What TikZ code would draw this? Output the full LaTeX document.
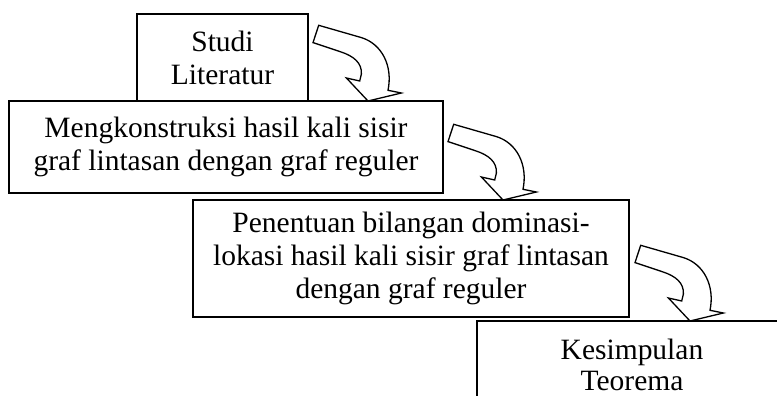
\documentclass[tikz,border=0pt]{standalone}
\usepackage{fontspec}
\setmainfont{Liberation Serif}
\begin{document}
\begin{tikzpicture}[x=1pt,y=-1pt,
  stepbox/.style={draw=black, line width=1.5pt, fill=white, inner sep=0pt, align=center,
    font=\fontsize{29.5}{33}\selectfont},
  curvedarrow/.pic={
    \draw[line width=1.3pt, fill=white, line join=miter]
      (-49.3,-75.7) -- (-6.6,-63.4)
      .. controls (14,-57) and (25,-35) .. (20,-10.7)
      -- (33.4,-8) -- (0,0) -- (-21.6,-23) -- (-8.3,-20) -- (-6.6,-27)
      .. controls (-6,-38) and (-14,-45) .. (-28.3,-49.5)
      -- (-55,-58.4) -- cycle;
  }]
\useasboundingbox (0,0) rectangle (777,396);
\clip (0,0) rectangle (777,396);
\node[stepbox, minimum width=171, minimum height=87] (b1) at (222.5,57.5) {Studi\\Literatur};
\node[stepbox, minimum width=434, minimum height=92] (b2) at (226,147) {Mengkonstruksi hasil kali sisir\\graf lintasan dengan graf reguler};
\node[stepbox, minimum width=436, minimum height=117] (b3) at (411,258.5) {Penentuan bilangan dominasi-\\lokasi hasil kali sisir graf lintasan\\dengan graf reguler};
\node[stepbox, minimum width=310, minimum height=88, font=\fontsize{29.5}{31}\selectfont] (b4) at (632,365) {Kesimpulan\\Teorema};
\coordinate (t1) at (368,101);
\coordinate (t2) at (503,200);
\coordinate (t3) at (690,321);
\pic at (t1) {curvedarrow};
\pic at (t2) {curvedarrow};
\pic at (t3) {curvedarrow};
\end{tikzpicture}
\end{document}
